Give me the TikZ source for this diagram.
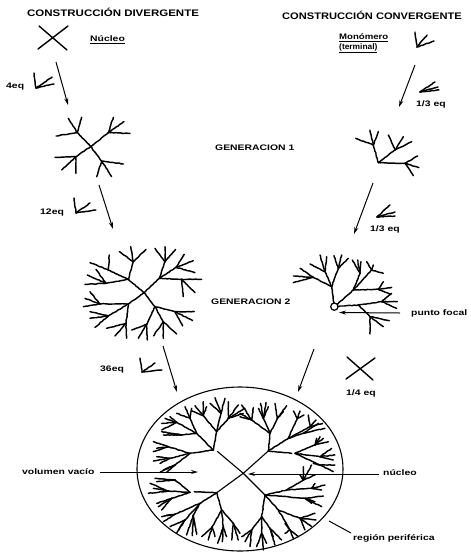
\documentclass[tikz,border=0pt]{standalone}
\usepackage{graphicx}
\usepackage{fontspec}
\setmainfont{Liberation Sans}
\usetikzlibrary{arrows.meta,decorations.pathmorphing}
\newcommand{\br}[2]{\foreach \q in {#2}{\draw[tree] #1 -- \q;}}
\newcommand{\sx}[1]{\scalebox{1.3}[1]{#1}}
\tikzset{
  tree/.style={line width=1.45pt,line cap=round,line join=round,black,
    decorate,decoration={random steps,segment length=2pt,amplitude=0.3pt}},
  solidline/.style={line width=1.4pt,line cap=round,black},
  arr/.style={line width=1pt,-{Stealth[length=7pt,width=4pt]}},
  ttl/.style={font=\fontsize{9.5}{10}\selectfont\bfseries,inner sep=0pt,anchor=west},
  lab/.style={font=\fontsize{8}{10}\selectfont\bfseries,inner sep=0pt,anchor=west},
  zm/.style={x=0.3333pt,y=-0.3333pt},
}
\begin{document}
\begin{tikzpicture}[x=1pt,y=-1pt]
\useasboundingbox (0,0) rectangle (471,552);
% titles
\node[ttl] (t1) at (27,12) {\scalebox{1.21}[1]{CONSTRUCCIÓN DIVERGENTE}};
\node[ttl] (t2) at (282,15) {\scalebox{1.17}[1]{CONSTRUCCIÓN CONVERGENTE}};
\node[lab] (nuc) at (90,40) {\sx{\underline{Núcleo}}};
\node[lab] (mono) at (339,38) {\scalebox{1.2}[1]{\underline{Monómero}}};
\node[lab] (mono2) at (339,48) {\scalebox{1.05}[1]{\underline{(terminal)}}};
\node[lab] (g1) at (215,148) {\sx{GENERACION 1}};
\node[lab] (g2) at (211,302) {\sx{GENERACION 2}};
\node[lab] (e4) at (6,87) {\sx{4eq}};
\node[lab] (e12) at (40,213) {\sx{12eq}};
\node[lab] (e36) at (100,370) {\sx{36eq}};
\node[lab] (e13a) at (416,104) {\sx{1/3 eq}};
\node[lab] (e13b) at (370,229) {\sx{1/3 eq}};
\node[lab] (e14) at (346,393) {\sx{1/4 eq}};
\node[lab] (pf) at (411,313) {\sx{punto focal}};
\node[lab] (vv) at (22,472) {\sx{volumen vacío}};
\node[lab] (nc) at (383,473) {\sx{núcleo}};
\node[lab] (rp) at (353,538) {\sx{región periférica}};
% arrows
\coordinate (a1s) at (56,62); \coordinate (a1e) at (68,105);
\coordinate (a2s) at (99,185); \coordinate (a2e) at (113,229);
\coordinate (a3s) at (163,346); \coordinate (a3e) at (177,392);
\coordinate (b1s) at (415,65); \coordinate (b1e) at (399,107);
\coordinate (b2s) at (373,183); \coordinate (b2e) at (354,234);
\coordinate (b3s) at (314,349); \coordinate (b3e) at (298,392);
\coordinate (pfs) at (400,313); \coordinate (pfe) at (339,312.5);
\coordinate (vvs) at (100,472); \coordinate (vve) at (198,472);
\coordinate (ncs) at (379,474); \coordinate (nce) at (248,474);
\coordinate (rps) at (351,533); \coordinate (rpe) at (329,521);
\foreach \s/\e in {a1s/a1e,a2s/a2e,a3s/a3e,b1s/b1e,b2s/b2e,b3s/b3e,pfs/pfe,vvs/vve,ncs/nce}
  \draw[arr] (\s) -- (\e);
\draw[line width=1pt] (rps) -- (rpe);
% nucleus crosses
\draw[solidline] (39,26) -- (67,50) (68,26) -- (38,49);
\draw[solidline] (347,357) -- (373,380) (375,358) -- (346,379);
% monomer icons
\br{(36,88)}{(34,73),(52,77),(54,84)}
\br{(76,213)}{(74,198),(90,203),(96,210)}
\br{(142,372)}{(140,358),(155,363),(162,370)}
\br{(417,47)}{(415,32),(427,35),(434,41)}
\br{(420,92)}{(435,82),(438,87),(439,90)}
\br{(377,217)}{(390,205),(395,212),(395,216)}
% generation 1, divergent
\begin{scope}[zm]
\br{(272,440)}{(232,398),(325,398),(228,470),(305,483)}
\br{(232,398)}{(245,352),(205,355),(168,408)}
\br{(325,398)}{(340,352),(372,365),(390,400)}
\br{(228,470)}{(165,472),(185,510),(228,520)}
\br{(305,483)}{(370,492),(335,530),(290,530)}
\end{scope}
% generation 1, convergent
\begin{scope}[xshift=235pt,zm]
\br{(430,488)}{(415,435),(480,450),(510,490)}
\br{(415,435)}{(405,390),(430,395),(362,415)}
\br{(480,450)}{(460,405),(505,410),(530,425)}
\br{(510,490)}{(548,468),(552,503),(535,527)}
\end{scope}
% generation 2, divergent
\begin{scope}[yshift=-190pt,zm]
\br{(432,308)}{(385,268),(478,265),(385,342),(465,350)}
\br{(385,268)}{(400,215),(318,280),(325,240)}
\br{(400,215)}{(358,185),(392,170),(438,178)}
\br{(318,280)}{(255,283),(262,255),(288,238)}
\br{(325,240)}{(270,218),(328,195)}
\br{(478,265)}{(495,215),(528,232),(545,268)}
\br{(495,215)}{(465,175),(495,170),(527,178)}
\br{(528,232)}{(553,193),(580,212),(585,248)}
\br{(545,268)}{(605,268),(550,320),(585,308)}
\br{(385,342)}{(300,342),(325,378),(378,400)}
\br{(300,342)}{(270,305),(250,350),(255,325)}
\br{(325,378)}{(270,365),(270,385),(285,412)}
\br{(378,400)}{(320,415),(345,438),(380,445)}
\br{(465,350)}{(440,403),(490,395),(525,365)}
\br{(440,403)}{(395,420),(415,445),(442,450)}
\br{(490,395)}{(460,438),(490,445),(530,432)}
\br{(525,365)}{(583,365),(578,392),(548,408)}
\end{scope}
% generation 2, convergent
\begin{scope}[xshift=235pt,yshift=-190pt,zm]
\br{(298,350)}{(290,290),(355,300),(370,345)}
\br{(290,290)}{(235,262),(270,245),(310,235)}
\br{(235,262)}{(195,235),(175,258),(175,278)}
\br{(270,245)}{(225,222),(255,195),(275,200)}
\br{(310,235)}{(297,197),(320,195),(340,205)}
\br{(355,300)}{(375,250),(410,240),(430,298)}
\br{(375,250)}{(352,210),(368,210),(378,215)}
\br{(410,240)}{(395,215),(415,225),(445,250)}
\br{(430,298)}{(445,275),(470,292),(465,312)}
\br{(370,345)}{(440,335),(405,380)}
\br{(440,335)}{(470,310),(487,335),(485,355)}
\br{(405,380)}{(463,392),(445,410),(405,432)}
\draw[line width=1.2pt,fill=white] (298,350) circle [radius=11];
\end{scope}
% final dendrimer
\draw[line width=1.1pt] (240,469) ellipse [x radius=103, y radius=82];
\coordinate (cc) at (243.3,473.3);
\coordinate (n1) at (217.5,451.5);
\coordinate (n2) at (268.3,451);
\coordinate (n3) at (216.7,492.7);
\coordinate (n4) at (265,495);
\foreach \n in {n1,n2,n3,n4} \draw[solidline,line width=1.1pt] (cc) -- (\n);
% north-west
\begin{scope}[xshift=135pt,yshift=-385pt,zm]
\br{(235,195)}{(245,140),(185,145),(165,205)}
\br{(245,140)}{(258,85),(205,92),(280,100)}
\br{(258,85)}{(240,38),(270,40),(225,55)}
\br{(205,92)}{(180,62),(205,50),(172,78),(215,65)}
\br{(280,100)}{(280,50),(310,60),(330,70),(325,85)}
\br{(185,145)}{(125,112),(165,100),(140,150)}
\br{(125,112)}{(80,115),(90,100),(105,95),(80,135)}
\br{(165,100)}{(125,85),(150,65),(170,70)}
\br{(140,150)}{(80,140),(100,145),(85,150)}
\br{(165,205)}{(100,185),(105,220),(120,240)}
\br{(100,185)}{(55,170),(65,190),(55,200)}
\br{(105,220)}{(55,228),(75,235),(65,215)}
\br{(120,240)}{(85,255),(75,262),(95,262)}
\end{scope}
% north-east
\begin{scope}[xshift=240pt,yshift=-385pt,zm]
\br{(85,198)}{(90,145),(145,160),(155,205)}
\br{(90,145)}{(70,100),(35,105),(112,100)}
\br{(70,100)}{(62,55),(78,52),(55,70),(85,65)}
\br{(35,105)}{(5,60),(40,68),(0,85),(0,95)}
\br{(112,100)}{(105,55),(140,62),(130,80)}
\br{(145,160)}{(172,100),(210,125),(190,145)}
\br{(172,100)}{(160,78),(180,78),(192,90)}
\br{(210,125)}{(205,90),(228,105),(248,115)}
\br{(190,145)}{(255,130),(235,115)}
\br{(165,205)}{(225,180),(240,215),(240,240)}
\br{(225,180)}{(240,155),(250,160),(265,170),(230,160)}
\br{(240,215)}{(285,210),(275,190),(280,225)}
\br{(240,240)}{(280,260),(285,240),(220,235)}
\end{scope}
% south-west
\begin{scope}[xshift=135pt,yshift=-465pt,zm]
\br{(245,83)}{(178,80),(195,115),(260,135)}
\br{(165,82)}{(120,45),(100,78),(110,100)}
\br{(120,45)}{(60,40),(65,50),(95,45)}
\br{(100,78)}{(45,55),(40,85),(55,70)}
\br{(110,100)}{(65,115),(80,135),(70,125)}
\br{(195,115)}{(120,148),(150,165),(175,150)}
\br{(120,148)}{(80,155),(85,170),(95,150)}
\br{(150,165)}{(105,185),(130,195),(125,205)}
\br{(175,150)}{(155,210),(172,212),(185,208)}
\br{(260,135)}{(232,185),(265,185),(295,175)}
\br{(232,185)}{(200,215),(220,225),(240,215)}
\br{(265,185)}{(248,235),(262,230),(275,215)}
\br{(295,175)}{(290,225),(310,225),(315,205)}
\end{scope}
% south-east
\begin{scope}[xshift=240pt,yshift=-465pt,zm]
\br{(75,90)}{(65,155),(115,135),(140,75),(195,100)}
\br{(65,155)}{(35,195),(65,205),(90,190)}
\br{(35,195)}{(15,230),(30,245),(5,215)}
\br{(65,205)}{(50,245),(70,255),(80,235)}
\br{(90,190)}{(125,225),(105,240),(100,215)}
\br{(115,135)}{(150,195),(180,160)}
\br{(150,195)}{(135,205),(160,220),(175,215),(135,175)}
\br{(180,160)}{(225,145),(228,165),(215,185),(195,195)}
\br{(140,75)}{(190,45),(215,70)}
\br{(190,45)}{(190,5),(215,0),(225,30),(180,30)}
\br{(215,70)}{(255,60),(245,75),(225,55)}
\br{(195,100)}{(250,93),(245,125),(225,110),(215,115)}
\end{scope}
\end{tikzpicture}
\end{document}
